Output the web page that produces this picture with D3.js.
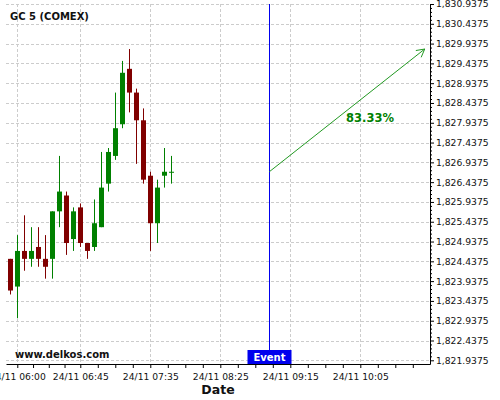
<!DOCTYPE html>
<html>
<head>
<meta charset="utf-8">
<script src="https://cdn.jsdelivr.net/npm/d3@7"></script>
<style>
  body { margin: 0; background: #fff; }
  text { font-family: "DejaVu Sans", sans-serif; }
</style>
</head>
<body>
<svg id="chart" width="500" height="400"></svg>
<script>
/*
** Data (5 minute candles, 24/11)
 */
var times  = ["05:55","06:00","06:05","06:10","06:15","06:20","06:25","06:30","06:35","06:40","06:45","06:50",
              "06:55","07:00","07:05","07:10","07:15","07:20","07:25","07:30","07:35","07:40","07:45","07:50"];
var opens  = [1824.5,1823.8,1824.7,1824.5,1824.8,1824.5,1824.5,1825.7,1826.1,1825.0,1825.8,1824.9,
              1824.8,1825.3,1826.4,1827.1,1827.9,1829.3,1828.7,1828.0,1826.6,1825.4,1826.6,1826.7];
var highs  = [1824.5,1825.1,1825.6,1825.3,1825.3,1825.1,1825.7,1827.1,1826.2,1825.8,1825.9,1824.9,
              1826.0,1827.2,1827.3,1828.7,1829.5,1829.8,1828.8,1828.3,1826.7,1826.5,1827.3,1827.1];
var lows   = [1823.6,1823.0,1824.2,1824.3,1824.3,1824.0,1824.0,1825.3,1824.6,1824.7,1824.8,1824.5,
              1824.7,1825.3,1826.2,1827.0,1827.8,1828.2,1826.9,1826.4,1824.7,1824.9,1826.3,1826.4];
var closes = [1823.7,1824.7,1824.5,1824.7,1824.5,1824.3,1825.7,1826.2,1824.9,1825.7,1824.9,1824.7,
              1825.4,1826.3,1827.2,1827.8,1829.2,1828.7,1828.0,1826.5,1825.4,1826.3,1826.7,1826.7];

var xTickTimes = ["06:00","06:45","07:35","08:25","09:15","10:05"];
var yTickValues = [1821.9375,1822.4375,1822.9375,1823.4375,1823.9375,1824.4375,1824.9375,1825.4375,
                   1825.9375,1826.4375,1826.9375,1827.4375,1827.9375,1828.4375,1828.9375,1829.4375,
                   1829.9375,1830.4375,1830.9375];

var eventTime = "09:00";
var forecastStart = ["09:00", 1826.7];
var forecastEnd   = ["10:51", 1829.8];
var forecastLabel = "83.33%";

/*
** Scales
 */
var parseTime = d3.timeParse("%H:%M:%S");
var hm = function (s) { return parseTime(s.length == 5 ? s + ":00" : s); };

var plotLeft = 6, plotRight = 430, plotTop = 4, plotBottom = 364;
var upColor = "#008000", downColor = "#800000";

var x = d3.scaleTime()
    .domain([hm("05:51:56"), hm("10:54:47")])
    .range([plotLeft, plotRight]);
var y = d3.scaleLinear()
    .domain([1821.844, 1830.9375])
    .range([plotBottom, plotTop]);

var svg = d3.select("#chart");

// Grid
var grid = svg.append("g").attr("stroke", "#cccccc").attr("stroke-dasharray", "3,2");
grid.selectAll(".hg").data(yTickValues).enter().append("line")
    .attr("x1", plotLeft).attr("x2", plotRight)
    .attr("y1", function (d) { return Math.round(y(d)) + 0.5; })
    .attr("y2", function (d) { return Math.round(y(d)) + 0.5; });
grid.selectAll(".vg").data(xTickTimes).enter().append("line")
    .attr("y1", plotTop).attr("y2", plotBottom)
    .attr("x1", function (d) { return Math.round(x(hm(d))) + 0.5; })
    .attr("x2", function (d) { return Math.round(x(hm(d))) + 0.5; });

// Minor ticks on the time axis (4 per major interval)
var xMajors = xTickTimes.map(hm);
var xMinors = [];
for (var i = 0; i < xMajors.length; i++) {
    var step = (i < xMajors.length - 1 ? xMajors[i + 1] - xMajors[i] : xMajors[i] - xMajors[i - 1]) / 4;
    for (var k = 1; k < 4 || i == xMajors.length - 1; k++) {
        var t = new Date(+xMajors[i] + k * step);
        if (t > x.domain()[1]) break;
        xMinors.push(t);
    }
}

// Axes
var xAxis = svg.append("g")
    .attr("transform", "translate(0," + plotBottom + ")")
    .call(d3.axisBottom(x).tickValues(xMajors.concat(xMinors)).tickSize(4).tickSizeOuter(0).tickPadding(5)
        .tickFormat(function (d) {
            return xMajors.some(function (m) { return +m == +d; }) ? "24/11 " + d3.timeFormat("%H:%M")(d) : "";
        }));
xAxis.selectAll("text").attr("font-size", "9.2px").attr("fill", "#111").style("font-family", "DejaVu Sans");

var yMinors = d3.range(1821.9375, 1830.94, 0.1).filter(function (v) {
    return yTickValues.every(function (m) { return Math.abs(m - v) > 0.01; });
});
svg.append("g")
    .attr("transform", "translate(" + plotRight + ",0)")
    .call(d3.axisRight(y).tickValues(yMinors).tickSize(2).tickSizeOuter(0).tickFormat(""))
    .select(".domain").remove();
var yAxis = svg.append("g")
    .attr("transform", "translate(" + plotRight + ",0)")
    .call(d3.axisRight(y).tickValues(yTickValues).tickSize(4).tickSizeOuter(0).tickPadding(2)
        .tickFormat(d3.format(",.4f")));
yAxis.selectAll("text").attr("font-size", "9.2px").attr("fill", "#111").style("font-family", "DejaVu Sans");

// Candles
var candles = times.map(function (t, i) {
    return { t: hm(t), o: opens[i], h: highs[i], l: lows[i], c: closes[i] };
});
var cg = svg.append("g").selectAll("g").data(candles).enter().append("g")
    .attr("fill", function (d) { return d.c >= d.o ? upColor : downColor; })
    .attr("stroke", function (d) { return d.c >= d.o ? upColor : downColor; });
cg.append("line")
    .attr("x1", function (d) { return Math.round(x(d.t)) + 0.5; })
    .attr("x2", function (d) { return Math.round(x(d.t)) + 0.5; })
    .attr("y1", function (d) { return y(d.h); })
    .attr("y2", function (d) { return y(d.l); });
cg.append("rect")
    .attr("stroke", "none")
    .attr("x", function (d) { return Math.round(x(d.t)) - 2; })
    .attr("width", 5)
    .attr("y", function (d) { return y(Math.max(d.o, d.c)); })
    .attr("height", function (d) { return Math.max(1, y(Math.min(d.o, d.c)) - y(Math.max(d.o, d.c))); });

// Event marker
var ex = Math.round(x(hm(eventTime))) + 0.5;
svg.append("line")
    .attr("x1", ex).attr("x2", ex).attr("y1", plotTop).attr("y2", plotBottom)
    .attr("stroke", "#0000ee");
svg.append("rect")
    .attr("x", ex - 22).attr("y", plotBottom - 14).attr("width", 44).attr("height", 14)
    .attr("fill", "#0000ee");
svg.append("text")
    .attr("x", ex).attr("y", plotBottom - 3.5).attr("text-anchor", "middle")
    .attr("font-size", "10px").attr("font-weight", "bold").attr("fill", "#fff")
    .text("Event");

// Forecast arrow
var ax1 = x(hm(forecastStart[0])), ay1 = y(forecastStart[1]);
var ax2 = x(hm(forecastEnd[0])), ay2 = y(forecastEnd[1]);
var ang = Math.atan2(ay2 - ay1, ax2 - ax1);
var arrow = svg.append("g").attr("stroke", "#229922").attr("fill", "none").attr("stroke-width", 1);
arrow.append("line").attr("x1", ax1).attr("y1", ay1).attr("x2", ax2).attr("y2", ay2);
[-0.5, 0.5].forEach(function (da) {
    arrow.append("line")
        .attr("x1", ax2).attr("y1", ay2)
        .attr("x2", ax2 - 9 * Math.cos(ang + da))
        .attr("y2", ay2 - 9 * Math.sin(ang + da));
});
svg.append("text")
    .attr("x", (ax1 + ax2) / 2 + 23).attr("y", (ay1 + ay2) / 2 + 12)
    .attr("text-anchor", "middle")
    .attr("font-size", "11.5px").attr("font-weight", "bold").attr("fill", "#008000")
    .text(forecastLabel);

// Titles
svg.append("text").attr("x", 10).attr("y", 19.5)
    .attr("font-size", "10px").attr("font-weight", "bold").attr("fill", "#111")
    .text("GC 5 (COMEX)");
svg.append("text").attr("x", 15).attr("y", 357.5)
    .attr("font-size", "10px").attr("font-weight", "bold").attr("fill", "#111")
    .text("www.delkos.com");
svg.append("text").attr("x", (plotLeft + plotRight) / 2).attr("y", 394)
    .attr("text-anchor", "middle")
    .attr("font-size", "12.5px").attr("font-weight", "bold").attr("fill", "#111")
    .text("Date");
</script>
</body>
</html>
